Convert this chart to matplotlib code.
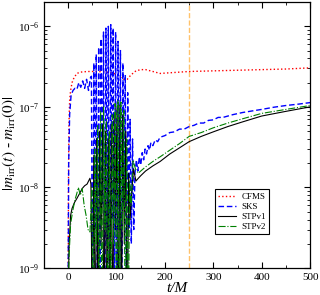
import numpy as np
import matplotlib.pyplot as plt

plt.rcParams['font.family'] = ['Liberation Serif', 'DejaVu Serif']
plt.rcParams['mathtext.fontset'] = 'stix'

# CFMS
t_cfms = [0, 0.5, 1.5, 3, 5, 8, 12, 18, 25, 40, 60, 80, 95, 105, 115, 122, 130, 140, 150,
          160, 175, 190, 210, 250, 300, 350, 400, 450, 500]
m_cfms = [5e-10, 1e-8, 6e-8, 1.2e-7, 1.6e-7, 2.0e-7, 2.3e-7, 2.6e-7, 2.7e-7, 2.75e-7, 2.75e-7,
          2.7e-7, 2.6e-7, 2.4e-7, 2.2e-7, 2.2e-7, 2.5e-7, 2.8e-7, 2.9e-7, 2.9e-7, 2.75e-7,
          2.6e-7, 2.65e-7, 2.75e-7, 2.8e-7, 2.85e-7, 2.9e-7, 2.95e-7, 3.05e-7]

# SKS
t_sks = [0, 1, 3, 6, 10, 14, 18, 22, 26, 30, 34, 38, 42, 46,
         48, 50.5, 53, 55.5, 58, 60.5, 63, 65.5, 68, 70.5, 73, 75.5, 78, 80.5, 83, 85.5,
         88, 90.5, 93, 95.5, 98, 100.5, 103, 105.5, 108, 110.5, 113, 115.5, 118, 120.5,
         123, 125.5, 128, 130.5, 133, 135.5, 138, 141, 144, 147, 150, 153, 156, 159, 162,
         165, 168, 171, 175, 180, 185, 190, 200, 210, 220, 230, 240, 250, 260, 270, 280,
         290, 300, 310, 320, 340, 360, 380, 400, 425, 450, 475, 500]
m_sks = [8e-10, 2e-8, 8e-8, 1.4e-7, 1.6e-7, 1.7e-7, 1.65e-7, 2.0e-7, 1.75e-7, 2.1e-7, 1.7e-7,
         2.2e-7, 1.6e-7, 2.3e-7,
         2.4e-7, 1e-10, 3.5e-7, 3e-9, 4.5e-7, 1e-10, 5.5e-7, 1e-10, 7e-7, 6e-9, 8.5e-7,
         1e-10, 9.5e-7, 2e-9, 1.0e-6, 1e-10, 1.05e-6, 4e-9, 9.5e-7, 1e-10, 8.5e-7, 1e-10,
         6.5e-7, 3e-9, 5e-7, 1e-10, 3.5e-7, 6e-9, 2.5e-7, 1e-10, 1.5e-7, 3e-9, 7e-8, 2e-9,
         4e-8, 3e-9, 1.5e-8, 2.2e-8, 1.6e-8, 2.4e-8, 1.9e-8, 2.7e-8, 2.2e-8, 3.0e-8,
         2.6e-8, 3.3e-8, 2.9e-8, 3.6e-8, 3.3e-8, 3.9e-8, 3.7e-8, 4.2e-8, 4.4e-8, 4.8e-8,
         4.9e-8, 5.3e-8, 5.3e-8, 5.7e-8, 5.9e-8, 6.3e-8, 6.3e-8, 6.8e-8, 6.9e-8, 7.4e-8,
         7.4e-8, 8.0e-8, 8.5e-8, 8.9e-8, 9.3e-8, 9.9e-8, 1.04e-7, 1.08e-7, 1.13e-7]

# STPv1
t_stp1 = [0, 2, 5, 8, 13, 18, 24, 29, 34, 39, 45,
          47, 50, 53, 56, 59, 62, 65, 68, 71, 74, 77, 80, 83, 86, 89, 92, 95, 98, 101,
          104, 107, 110, 113, 116, 119, 122, 125, 128, 131, 135, 140, 145, 150, 160, 175,
          190, 210, 230, 250, 275, 300, 330, 360, 400, 450, 500]
m_stp1 = [5e-10, 2e-9, 4.5e-9, 5.5e-9, 6.5e-9, 7.3e-9, 8.5e-9, 9.7e-9, 1.05e-8, 1.1e-8, 1.3e-8,
          1.1e-8, 1e-10, 2.5e-8, 1e-10, 4e-8, 1e-10, 5e-8, 2e-9, 6e-8, 1e-10, 5e-8, 1e-10,
          4e-8, 1e-10, 6e-8, 1e-10, 8e-8, 3e-9, 1e-7, 1e-10, 1.05e-7, 1e-10, 8e-8, 2e-9,
          5e-8, 1e-10, 1.5e-8, 4e-9, 8e-9, 1.7e-8, 1.2e-8, 1.3e-8, 1.4e-8, 1.6e-8, 1.85e-8,
          2.1e-8, 2.6e-8, 3.1e-8, 3.7e-8, 4.3e-8, 4.9e-8, 5.7e-8, 6.5e-8, 7.7e-8, 8.8e-8, 1.0e-7]

# STPv2
t_stp2 = [0, 2, 5, 9, 14, 18, 21, 25, 29, 33, 37, 41, 45,
          49, 52, 55, 58, 61, 64, 67, 70, 73, 76, 79, 82, 85, 88, 91, 94, 97, 100, 103,
          106, 109, 112, 115, 118, 121, 124, 127, 130, 134, 139, 145, 150, 160, 175, 190,
          210, 230, 250, 275, 300, 330, 360, 400, 450, 500]
m_stp2 = [5e-10, 1.5e-9, 3.5e-9, 5e-9, 7e-9, 8.5e-9, 1e-8, 8e-9, 9.7e-9, 6e-9, 4.5e-9, 3e-9, 2.8e-9,
          1e-8, 1e-10, 3e-8, 2e-9, 6e-8, 1e-10, 9e-8, 1e-10, 1e-7, 3e-9, 7e-8, 1e-10,
          5e-8, 1e-10, 8e-8, 2e-9, 1.1e-7, 1e-10, 1.2e-7, 1e-10, 1.15e-7, 3e-9, 9e-8,
          1e-10, 4e-8, 1e-10, 1.2e-8, 6e-9, 2.2e-8, 1.7e-8, 1.5e-8, 1.6e-8, 1.8e-8, 2.1e-8,
          2.4e-8, 2.9e-8, 3.5e-8, 4.3e-8, 4.8e-8, 5.5e-8, 6.3e-8, 7.1e-8, 8.3e-8, 9.3e-8, 1.04e-7]

fig = plt.figure(figsize=(3.2, 2.95), dpi=100)
ax = fig.add_axes([0.1375, 0.0915, 0.8315, 0.9015])

ax.axvline(250, color='#ffc26b', linestyle='--', linewidth=1.0)
ax.plot(t_cfms, m_cfms, color='#ff0000', linestyle=':', linewidth=1.0, label='CFMS')
ax.plot(t_sks, m_sks, color='#0000ff', linestyle=(0, (4, 2)), linewidth=1.0, label='SKS')
ax.plot(t_stp1, m_stp1, color='black', linestyle='-', linewidth=0.8, label='STPv1')
ax.plot(t_stp2, m_stp2, color='#008000', linestyle='-.', linewidth=0.8, label='STPv2')

ax.set_yscale('log')
ax.set_xlim(-50, 500)
ax.set_ylim(1e-9, 2e-6)
ax.set_xticks([0, 100, 200, 300, 400, 500])
ax.set_xticks([-50, 50, 150, 250, 350, 450], minor=True)
ax.tick_params(which='both', direction='in', top=True, right=True, labelsize=8)
ax.tick_params(which='major', length=4)
ax.tick_params(which='minor', length=2)
for s in ax.spines.values():
    s.set_linewidth(0.9)

ax.set_xlabel('t/M', fontsize=11, style='italic')
ax.xaxis.set_label_coords(0.5, -0.052)
ax.set_ylabel(r'$|m_{\rm irr}(t)$ - $m_{\rm irr}(0)|$', fontsize=11)
ax.yaxis.set_label_coords(-0.098, 0.47)

leg = ax.legend(loc='lower right', bbox_to_anchor=(0.862, 0.11), fontsize=6.5, fancybox=False,
                edgecolor='black', framealpha=1, handlelength=2.0, borderpad=0.35,
                labelspacing=0.2, handletextpad=0.6)
leg.get_frame().set_linewidth(0.8)

plt.savefig('out.png', dpi=100)
